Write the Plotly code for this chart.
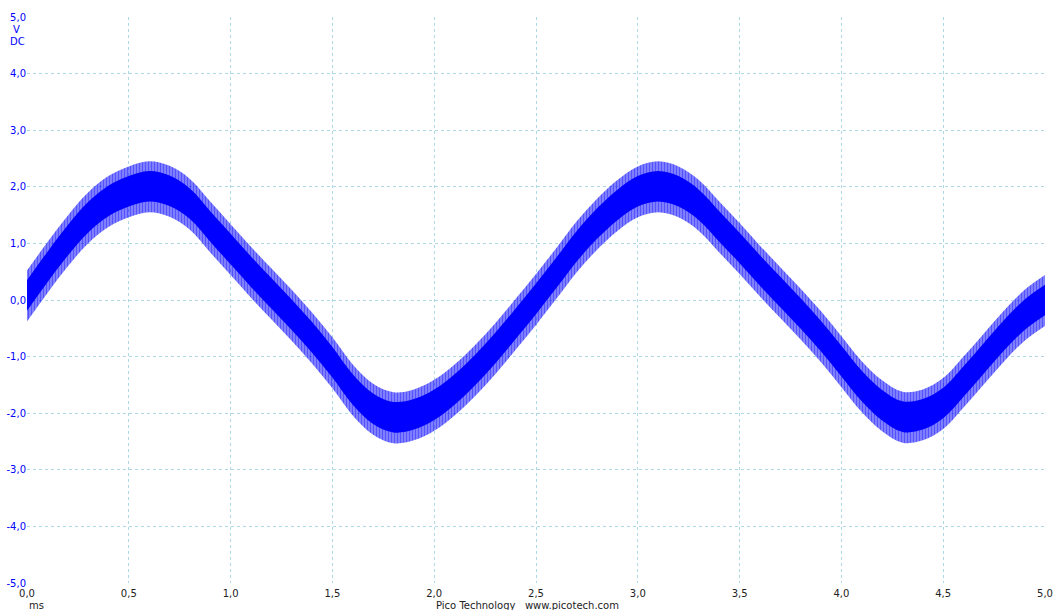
import plotly.graph_objects as go

# Time axis (ms) at which the waveform envelope was read
t_ms = [round(i * 0.1, 1) for i in range(51)]

# Dense core of the trace (V)
core_hi = [0.35,0.85,1.32,1.73,2.02,2.19,2.28,2.20,1.97,1.57,
           1.17,0.77,0.39,0.01,-0.39,-0.83,-1.31,-1.65,-1.80,-1.75,
           -1.58,-1.31,-0.97,-0.58,-0.15,0.29,0.75,1.22,1.62,1.95,
           2.19,2.28,2.19,1.95,1.57,1.19,0.79,0.41,0.03,-0.37,
           -0.81,-1.25,-1.59,-1.79,-1.75,-1.55,-1.17,-0.76,-0.35,0.01,0.27]
core_lo = [-0.19,0.31,0.78,1.19,1.48,1.65,1.74,1.66,1.43,1.03,
           0.63,0.23,-0.15,-0.53,-0.93,-1.37,-1.85,-2.19,-2.34,-2.29,
           -2.12,-1.85,-1.51,-1.12,-0.69,-0.25,0.21,0.68,1.08,1.41,
           1.65,1.74,1.65,1.41,1.03,0.65,0.25,-0.13,-0.51,-0.91,
           -1.35,-1.79,-2.13,-2.33,-2.29,-2.09,-1.71,-1.30,-0.89,-0.53,-0.27]
# Extent of the high-frequency spikes (V)
spike_hi = [0.52,1.02,1.49,1.90,2.19,2.36,2.45,2.37,2.14,1.74,
            1.34,0.94,0.56,0.18,-0.22,-0.66,-1.14,-1.48,-1.63,-1.58,
            -1.41,-1.14,-0.80,-0.41,0.02,0.46,0.92,1.39,1.79,2.12,
            2.36,2.45,2.36,2.12,1.74,1.36,0.96,0.58,0.20,-0.20,
            -0.64,-1.08,-1.42,-1.62,-1.58,-1.38,-1.00,-0.59,-0.18,0.18,0.44]
spike_lo = [-0.38,0.12,0.59,1.00,1.29,1.46,1.55,1.47,1.24,0.84,
            0.44,0.04,-0.34,-0.72,-1.12,-1.56,-2.04,-2.38,-2.53,-2.48,
            -2.31,-2.04,-1.70,-1.31,-0.88,-0.44,0.02,0.49,0.89,1.22,
            1.46,1.55,1.46,1.22,0.84,0.46,0.06,-0.32,-0.70,-1.10,
            -1.54,-1.98,-2.32,-2.52,-2.48,-2.28,-1.90,-1.49,-1.08,-0.72,-0.46]

x_ticks = [0, 0.5, 1.0, 1.5, 2.0, 2.5, 3.0, 3.5, 4.0, 4.5, 5.0]
x_ticktext = ["0,0", "0,5", "1,0", "1,5", "2,0", "2,5", "3,0", "3,5", "4,0", "4,5", "5,0"]
y_ticks = [-5, -4, -3, -2, -1, 0, 1, 2, 3, 4, 5]
y_ticktext = ["-5,0", "-4,0", "-3,0", "-2,0", "-1,0", "0,0", "1,0", "2,0", "3,0", "4,0", "5,0"]

BLUE = "#0000ff"
GRID = "#add8e6"
FONT = "DejaVu Sans"

fig = go.Figure()
fig.add_trace(go.Scatter(x=t_ms, y=spike_lo, mode="lines", line=dict(width=0, color=BLUE, shape="spline"),
                         hoverinfo="skip", showlegend=False))
fig.add_trace(go.Scatter(x=t_ms, y=spike_hi, mode="lines", line=dict(width=0, color=BLUE, shape="spline"),
                         fill="tonexty", fillcolor="rgba(0,0,255,0.35)",
                         fillpattern=dict(shape="|", fgcolor=BLUE, bgcolor="rgba(0,0,255,0.35)", size=3, solidity=0.65),
                         hoverinfo="skip", showlegend=False))
fig.add_trace(go.Scatter(x=t_ms, y=core_lo, mode="lines", line=dict(width=0, color=BLUE, shape="spline"),
                         hoverinfo="skip", showlegend=False))
fig.add_trace(go.Scatter(x=t_ms, y=core_hi, mode="lines", line=dict(width=0, color=BLUE, shape="spline"),
                         fill="tonexty", fillcolor=BLUE, showlegend=False))

fig.update_layout(
    width=1056, height=610,
    margin=dict(l=27, r=11, t=17, b=27),
    paper_bgcolor="white", plot_bgcolor="white",
    font=dict(family=FONT, size=10, color="#222222"),
)
fig.update_xaxes(range=[0, 5], tickvals=x_ticks, ticktext=x_ticktext, showgrid=True, automargin=False,
                 gridcolor=GRID, griddash="dot", gridwidth=1, zeroline=False, showline=False,
                 ticks="", ticklabelstandoff=3, tickfont=dict(family=FONT, size=10, color="#222222"))
fig.update_yaxes(range=[-5, 5], tickvals=y_ticks, ticktext=y_ticktext, showgrid=True, automargin=False,
                 gridcolor=GRID, griddash="dot", gridwidth=1, zeroline=False, showline=False,
                 ticks="", ticklabelstandoff=0, tickfont=dict(family=FONT, size=10, color=BLUE))

fig.add_annotation(text="V", xref="paper", yref="paper", x=-0.0105, y=0.978, xanchor="center", yanchor="middle",
                   showarrow=False, font=dict(family=FONT, size=10, color=BLUE))
fig.add_annotation(text="DC", xref="paper", yref="paper", x=0.0, y=0.957, xanchor="right", yanchor="middle",
                   showarrow=False, font=dict(family=FONT, size=10, color=BLUE))
fig.add_annotation(text="ms", xref="paper", yref="paper", x=0.0, y=-0.04, xanchor="left", yanchor="middle",
                   showarrow=False, font=dict(family=FONT, size=10, color="#222222"))
fig.add_annotation(text="Pico Technology   www.picotech.com", xref="paper", yref="paper", x=0.492, y=-0.04,
                   xanchor="center", yanchor="middle", showarrow=False,
                   font=dict(family=FONT, size=10, color="#222222"))

fig.write_html("out.html")
